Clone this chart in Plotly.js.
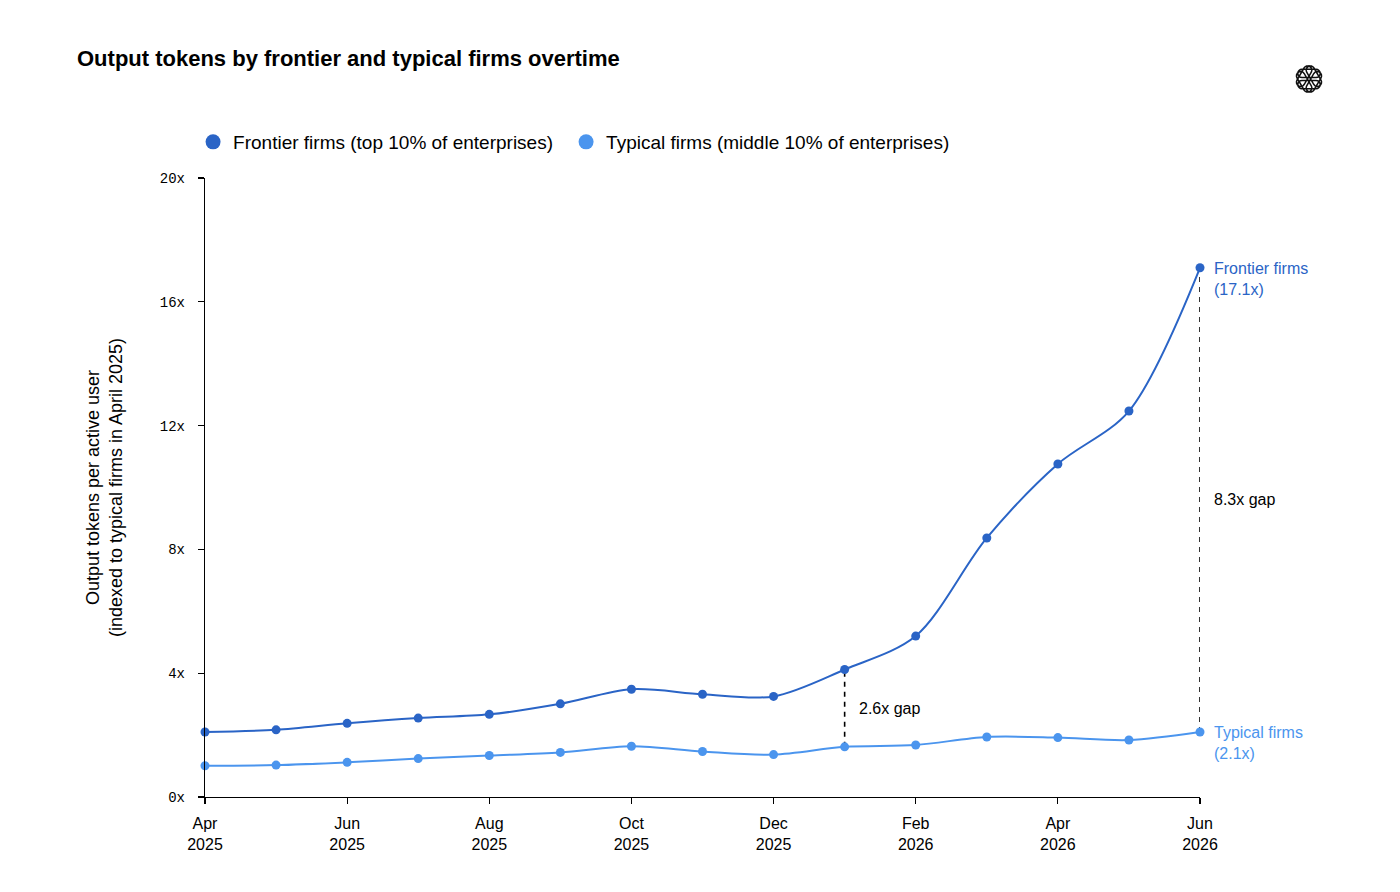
<!DOCTYPE html>
<html>
<head>
<meta charset="utf-8">
<script src="https://cdn.plot.ly/plotly-3.0.1.min.js"></script>
<style>
  html, body { margin: 0; padding: 0; background: #ffffff; }
  #chart { width: 1400px; height: 892px; }
</style>
</head>
<body>
<div id="chart"></div>
<script>
// ---- Data ----
const months = ['Apr 2025','May 2025','Jun 2025','Jul 2025','Aug 2025','Sep 2025','Oct 2025','Nov 2025','Dec 2025','Jan 2026','Feb 2026','Mar 2026','Apr 2026','May 2026','Jun 2026'];
const frontier = [2.10, 2.17, 2.38, 2.55, 2.67, 3.01, 3.48, 3.32, 3.25, 4.12, 5.20, 8.37, 10.76, 12.47, 17.1];
const typical  = [1.01, 1.03, 1.12, 1.24, 1.34, 1.44, 1.64, 1.47, 1.37, 1.62, 1.68, 1.94, 1.92, 1.84, 2.1];
const seriesNames = ['Frontier firms (top 10% of enterprises)', 'Typical firms (middle 10% of enterprises)'];
const endLabels = ['Frontier firms<br>(17.1x)', 'Typical firms<br>(2.1x)'];
const gapLabels = ['2.6x gap', '8.3x gap'];
const gapIndex = [9, 14];
const yTicks = [0, 4, 8, 12, 16, 20];

const tickIdx = months.map((m, i) => i).filter(i => i % 2 === 0);
const xIdx = months.map((m, i) => i);

const cFrontier = '#2a64c6';
const cTypical = '#4b95ee';
const font = 'Liberation Sans, Arial, Helvetica, sans-serif';

const traces = [
  {
    x: xIdx, y: frontier, name: seriesNames[0], showlegend: false,
    mode: 'lines+markers', type: 'scatter', cliponaxis: false,
    line: { color: cFrontier, width: 2, shape: 'spline', smoothing: 0.9 },
    marker: { color: cFrontier, size: 9 }
  },
  {
    x: xIdx, y: typical, name: seriesNames[1], showlegend: false,
    mode: 'lines+markers', type: 'scatter', cliponaxis: false,
    line: { color: cTypical, width: 2, shape: 'spline', smoothing: 0.9 },
    marker: { color: cTypical, size: 9 }
  },
  // legend entries (markers only)
  { x: [null], y: [null], name: seriesNames[0], mode: 'markers', type: 'scatter',
    legend: 'legend', marker: { color: cFrontier, size: 15 } },
  { x: [null], y: [null], name: seriesNames[1], mode: 'markers', type: 'scatter',
    legend: 'legend2', marker: { color: cTypical, size: 15 } }
];

const shapes = gapIndex.map(i => ({
  type: 'line', xref: 'x', yref: 'y',
  x0: i, x1: i, y0: typical[i], y1: frontier[i],
  line: { color: '#000000', width: 1.6, dash: '5px,5px' },
  layer: 'below'
}));

// OpenAI-style logo approximation (pixel-sized path shape)
function logoPath() {
  let d = '';
  const hw = 4.2, half = 7.0, off = 5.6;
  for (let k = 0; k < 6; k++) {
    const t = k * Math.PI / 3;
    const dx = Math.cos(t), dy = Math.sin(t);
    const nx = -dy, ny = dx;
    const cx = nx * off, cy = ny * off;
    const pts = [];
    const ax = cx - dx * half, ay = cy - dy * half;
    const bx = cx + dx * half, by = cy + dy * half;
    for (let s = 0; s <= 8; s++) {
      const a = t - Math.PI / 2 + s * Math.PI / 8;
      pts.push([bx + hw * Math.cos(a), by + hw * Math.sin(a)]);
    }
    for (let s = 0; s <= 8; s++) {
      const a = t + Math.PI / 2 + s * Math.PI / 8;
      pts.push([ax + hw * Math.cos(a), ay + hw * Math.sin(a)]);
    }
    d += 'M' + pts.map(p => p[0].toFixed(2) + ',' + p[1].toFixed(2)).join('L') + 'Z';
  }
  return d;
}
shapes.push({
  type: 'path', xref: 'paper', yref: 'paper',
  xsizemode: 'pixel', ysizemode: 'pixel',
  xanchor: (1309 - 205) / 995, yanchor: (797 - 79) / 619,
  path: logoPath(),
  line: { color: '#111111', width: 1.5 },
  fillcolor: 'rgba(0,0,0,0)'
});

const annotations = [
  { x: 14, y: frontier[14], xref: 'x', yref: 'y', text: endLabels[0], showarrow: false,
    xanchor: 'left', yanchor: 'top', xshift: 12, yshift: 10, align: 'left',
    font: { family: font, size: 16, color: cFrontier } },
  { x: 14, y: typical[14], xref: 'x', yref: 'y', text: endLabels[1], showarrow: false,
    xanchor: 'left', yanchor: 'top', xshift: 12, yshift: 10, align: 'left',
    font: { family: font, size: 16, color: cTypical } },
  { x: gapIndex[0], y: (frontier[gapIndex[0]] + typical[gapIndex[0]]) / 2, xref: 'x', yref: 'y',
    text: gapLabels[0], showarrow: false, xanchor: 'left', yanchor: 'middle', xshift: 12,
    font: { family: font, size: 16, color: '#000000' } },
  { x: gapIndex[1], y: (frontier[gapIndex[1]] + typical[gapIndex[1]]) / 2, xref: 'x', yref: 'y',
    text: gapLabels[1], showarrow: false, xanchor: 'left', yanchor: 'middle', xshift: 12,
    font: { family: font, size: 16, color: '#000000' } }
];

const legendBase = {
  orientation: 'h', xanchor: 'left', y: (797 - 142) / 619, yanchor: 'middle',
  font: { family: font, size: 19, color: '#000000' },
  itemsizing: 'trace', itemwidth: 30, bgcolor: 'rgba(0,0,0,0)'
};

const layout = {
  width: 1400, height: 892,
  paper_bgcolor: '#ffffff', plot_bgcolor: '#ffffff',
  margin: { l: 205, r: 200, t: 178, b: 95 },
  font: { family: font, color: '#000000' },
  title: {
    text: '<b>Output tokens by frontier and typical firms overtime</b>',
    x: 77 / 1400, xanchor: 'left', xref: 'container',
    y: 1 - 58 / 892, yanchor: 'middle', yref: 'container',
    font: { family: font, size: 22, color: '#000000' }
  },
  showlegend: true,
  legend: Object.assign({}, legendBase, { x: -0.012 }),
  legend2: Object.assign({}, legendBase, { x: 0.3629 }),
  xaxis: {
    range: [0, 14], showgrid: false, zeroline: false,
    showline: true, linecolor: '#000000', linewidth: 1.2,
    ticks: 'outside', ticklen: 6, tickcolor: '#000000', tickwidth: 1.2,
    tickvals: tickIdx, ticktext: tickIdx.map(i => months[i].replace(' ', '<br>')),
    tickfont: { family: font, size: 16, color: '#000000' },
    ticklabelstandoff: 6,
    fixedrange: true
  },
  yaxis: {
    range: [0, 20], showgrid: false, zeroline: false,
    showline: true, linecolor: '#000000', linewidth: 1.2,
    ticks: 'outside', ticklen: 6, tickcolor: '#000000', tickwidth: 1.2,
    tickvals: yTicks, ticktext: yTicks.map(v => v + 'x'),
    tickfont: { family: 'Liberation Mono, DejaVu Sans Mono, monospace', size: 14, color: '#000000' },
    ticklabelstandoff: 10,
    title: {
      text: 'Output tokens per active user<br>(indexed to typical firms in April 2025)',
      font: { family: font, size: 18, color: '#000000' }, standoff: 32
    },
    fixedrange: true
  },
  shapes: shapes,
  annotations: annotations
};

Plotly.newPlot('chart', traces, layout, { displayModeBar: false, staticPlot: true });
</script>
</body>
</html>
